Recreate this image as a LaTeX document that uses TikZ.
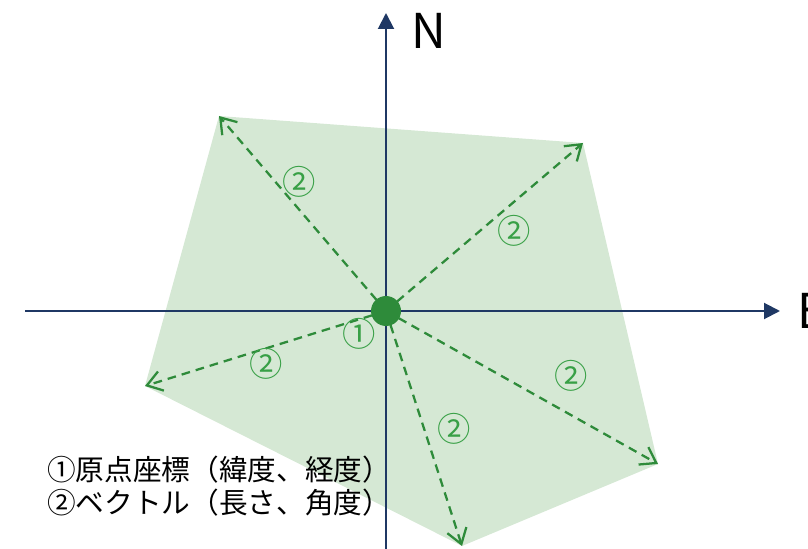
\documentclass[tikz,border=0pt]{standalone}
\usepackage{fontspec}
\setmainfont{Noto Sans CJK JP}
\newfontfamily\jpfont{Noto Sans CJK JP}
\usetikzlibrary{arrows.meta}
\definecolor{axisblue}{RGB}{31,56,100}
\definecolor{vgreen}{RGB}{46,139,58}
\definecolor{lgreen}{RGB}{56,160,70}
\definecolor{areafill}{RGB}{213,232,212}
\tikzset{
  axisline/.style={draw=axisblue, line width=1.5pt, -{Triangle[length=12pt,width=12pt]}},
  vecline/.style={draw=vgreen, line width=1.7pt, dash pattern=on 6.5pt off 4.5pt, -{Straight Barb[length=11pt,width=15pt]}},
  numlabel/.style={text=lgreen, font=\jpfont\fontsize{25}{25}\selectfont, inner sep=0pt},
  axislabel/.style={font=\jpfont\fontsize{36}{36}\selectfont, inner sep=0pt},
}
\begin{document}
\begin{tikzpicture}[x=0.75pt,y=-0.75pt]
\useasboundingbox (0,0) rectangle (808,549);
% named points
\coordinate (O) at (386,311);
\coordinate (pA) at (219,116);
\coordinate (pB) at (583,143);
\coordinate (pC) at (658,464);
\coordinate (pD) at (462,546);
\coordinate (pE) at (145,386);
\coordinate (xs) at (25,311);
\coordinate (xe) at (780,311);
\coordinate (ys) at (386,549);
\coordinate (ye) at (386,13);
% region
\fill[areafill] (pA) -- (pB) -- (pC) -- (pD) -- (pE) -- cycle;
% axes
\draw[axisline] (xs) -- (xe);
\draw[axisline] (ys) -- (ye);
\node[axislabel, anchor=west] (N) at (411,31) {N};
\node[axislabel, anchor=west] (E) at (797,311) {E};
% vectors
\foreach \p in {pA,pB,pC,pD,pE}{
  \draw[vecline] (O) -- (\p);
}
% origin
\node[circle, fill=vgreen, minimum size=22.5pt, inner sep=0pt] (origin) at (O) {};
% labels
\node[numlabel] (l1) at (359,334) {①};
\node[numlabel] (l2a) at (299,182) {②};
\node[numlabel] (l2b) at (514,231) {②};
\node[numlabel] (l2c) at (571,376) {②};
\node[numlabel] (l2d) at (454,429) {②};
\node[numlabel] (l2e) at (266,364) {②};
% legend
\node[anchor=west, align=left, inner sep=0pt, font=\jpfont\fontsize{21.5}{24.75}\selectfont] (legend) at (47,486) {①原点座標（緯度、経度）\\②ベクトル（長さ、角度）};
\end{tikzpicture}
\end{document}
